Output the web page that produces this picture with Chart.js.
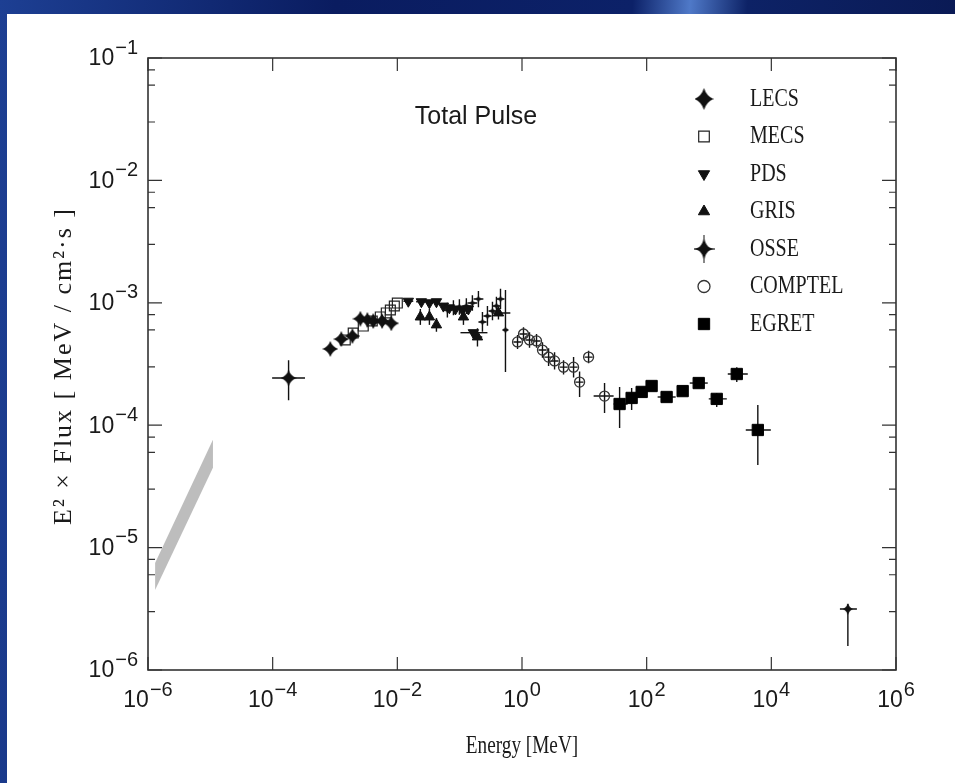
<!DOCTYPE html>
<html>
<head>
<meta charset="utf-8">
<script src="https://cdn.jsdelivr.net/npm/chart.js@4.4.0/dist/chart.umd.min.js"></script>
<style>
html, body { margin: 0; padding: 0; background: #0b1c5a; }
#chart { display: block; }
</style>
</head>
<body>
<canvas id="chart" width="955" height="783"></canvas>
<script>
// values: E [MeV], E^2 x Flux [MeV/cm2/s]
var lecsE = [1.8e-4, 8.4e-4, 1.26e-3, 1.9e-3, 2.55e-3, 3.3e-3, 4.1e-3, 5.7e-3, 8.0e-3];
var lecsF = [2.43e-4, 4.2e-4, 5.05e-4, 5.35e-4, 7.4e-4, 7.25e-4, 7.1e-4, 7.1e-4, 6.8e-4];
var lecsEerr = [[9.8e-5, 3.3e-4]];
var lecsFerr = [[1.6e-4, 3.4e-4]];

var mecsE = [1.46e-3, 1.96e-3, 2.84e-3, 3.96e-3, 5.33e-3, 6.65e-3, 7.73e-3, 8.95e-3, 1.0e-2];
var mecsF = [4.97e-4, 5.66e-4, 6.46e-4, 7.1e-4, 7.66e-4, 8.26e-4, 8.73e-4, 9.42e-4, 9.95e-4];

var pdsE = [1.5e-2, 2.43e-2, 3.27e-2, 4.24e-2, 5.48e-2, 6.84e-2, 8.55e-2, 0.111, 0.138, 0.166];
var pdsF = [1.03e-3, 1.02e-3, 1.0e-3, 1.02e-3, 9.4e-4, 9.1e-4, 8.9e-4, 8.7e-4, 8.9e-4, 5.7e-4];
var pdsEerr = [[1.25e-2, 1.8e-2], [2.0e-2, 2.9e-2], [2.9e-2, 3.7e-2], [3.7e-2, 4.8e-2], null, null, null, null, null, [0.103, 0.279]];

var grisE = [2.34e-2, 3.27e-2, 4.24e-2, 0.115, 0.193, 0.419];
var grisF = [7.66e-4, 7.66e-4, 6.6e-4, 7.66e-4, 5.26e-4, 8.26e-4];
var grisEerr = [null, null, null, null, [0.16, 0.23], [0.336, 0.65]];
var grisFerr = [[6.6e-4, 8.9e-4], [6.6e-4, 8.9e-4], [5.8e-4, 7.5e-4], [6.6e-4, 8.9e-4], [4.4e-4, 6.2e-4], [7.3e-4, 9.3e-4]];

var osseE = [6.35e-2, 7.94e-2, 9.9e-2, 0.128, 0.160, 0.2, 0.232, 0.279, 0.336, 0.389, 0.452, 0.543];
var osseF = [8.73e-4, 9.08e-4, 9.25e-4, 9.42e-4, 9.95e-4, 1.074e-3, 6.97e-4, 7.8e-4, 8.57e-4, 9.42e-4, 1.074e-3, 6.0e-4];
var osseEerr = [[5.3e-2, 7.6e-2], [6.6e-2, 9.5e-2], [8.3e-2, 0.119], [0.107, 0.154], [0.133, 0.192], [0.167, 0.24],
  [0.2, 0.27], [0.24, 0.325], [0.29, 0.39], [0.335, 0.45], [0.39, 0.525], [0.49, 0.6]];
var osseFerr = [[7.6e-4, 1.0e-3], [7.9e-4, 1.05e-3], [8.0e-4, 1.07e-3], [8.1e-4, 1.09e-3], [8.6e-4, 1.15e-3], [9.2e-4, 1.25e-3],
  [5.8e-4, 8.4e-4], [6.5e-4, 9.4e-4], [7.2e-4, 1.02e-3], [7.9e-4, 1.12e-3], [8.9e-4, 1.3e-3], [2.72e-4, 1.27e-3]];

var comptelE = [0.848, 1.057, 1.32, 1.71, 2.13, 2.67, 3.33, 4.64, 6.72, 8.39, 11.7, 21.1];
var comptelF = [4.79e-4, 5.56e-4, 4.97e-4, 4.88e-4, 4.11e-4, 3.6e-4, 3.35e-4, 2.98e-4, 2.98e-4, 2.25e-4, 3.6e-4, 1.73e-4];
var comptelEerr = [[0.73, 0.98], [0.91, 1.23], [1.14, 1.53], [1.47, 1.98], [1.84, 2.47], [2.3, 3.1], [2.87, 3.86],
  [4.0, 5.4], [5.8, 7.8], [7.2, 9.7], [10.1, 13.6], [14.1, 29.5]];
var comptelFerr = [[4.2e-4, 5.45e-4], [4.9e-4, 6.3e-4], [4.3e-4, 5.75e-4], [4.3e-4, 5.55e-4], [3.55e-4, 4.75e-4], [3.05e-4, 4.25e-4],
  [2.85e-4, 3.95e-4], [2.6e-4, 3.4e-4], [2.45e-4, 3.6e-4], [1.7e-4, 2.75e-4], [3.2e-4, 4.05e-4], [1.26e-4, 2.21e-4]];

var egretE = [36.8, 57.4, 83.2, 120, 209, 378, 684, 1330, 2790, 6070];
var egretF = [1.49e-4, 1.67e-4, 1.87e-4, 2.09e-4, 1.70e-4, 1.90e-4, 2.21e-4, 1.64e-4, 2.62e-4, 9.14e-5];
var egretEerr = [[29.5, 49.5], [50, 66], [75, 93], [105, 140], [150, 292], [320, 450], [491, 955], [991, 1930], [2000, 4190], [3890, 9820]];
var egretFerr = [[9.5e-5, 2.05e-4], [1.33e-4, 2.01e-4], [1.7e-4, 2.05e-4], null, null, null, null, [1.41e-4, 1.83e-4], [2.25e-4, 2.98e-4], [4.73e-5, 1.46e-4]];

var tevE = [1.69e5];
var tevF = [3.15e-6];
var tevEerr = [[1.26e5, 2.36e5]];
var tevFerr = [[1.57e-6, 3.46e-6]];

// grey band at lowest energies
var bandE = [1.3e-6, 1.1e-5];
var bandHi = [7.5e-6, 7.6e-5];
var bandLo = [4.5e-6, 4.5e-5];

var xLabelExp = [-6, -4, -2, 0, 2, 4, 6];
var yLabelExp = [-6, -5, -4, -3, -2, -1];
var plotTitle = 'Total Pulse';
var xTitle = 'Energy [MeV]';
var yTitle = 'E\u00b2 \u00d7 Flux [ MeV / cm\u00b2\u00b7s ]';

function pts(xs, ys) {
  return xs.map(function (x, i) { return { x: x, y: ys[i] }; });
}

// 4 point star marker
function makeStar(w, h, pinch) {
  var c = document.createElement('canvas');
  c.width = w; c.height = h;
  var g = c.getContext('2d');
  var cx = w / 2, cy = h / 2, px = w * pinch, py = h * pinch;
  g.fillStyle = '#111';
  g.beginPath();
  g.moveTo(cx, 0);
  g.quadraticCurveTo(cx + px, cy - py, w, cy);
  g.quadraticCurveTo(cx + px, cy + py, cx, h);
  g.quadraticCurveTo(cx - px, cy + py, 0, cy);
  g.quadraticCurveTo(cx - px, cy - py, cx, 0);
  g.fill();
  return c;
}
function makeCross(w, h) {
  var c = makeStar(w, h, 0.03);
  var g = c.getContext('2d');
  g.strokeStyle = '#111'; g.lineWidth = 1;
  g.beginPath();
  g.moveTo(w / 2, 0); g.lineTo(w / 2, h);
  g.moveTo(0, h / 2); g.lineTo(w, h / 2);
  g.stroke();
  return c;
}

var lecsMark = makeStar(16, 16, 0.13);
var lecsLegend = makeStar(19, 22, 0.13);
var tevMark = makeStar(10, 12, 0.13);
var osseMark = makeStar(7, 7, 0.1);
var osseLegend = makeCross(21, 28);

var datasets = [
  { type: 'line', label: 'band', data: pts(bandE, bandHi), fill: '+1', backgroundColor: '#bdbdbd',
    borderWidth: 0, pointRadius: 0, borderColor: 'rgba(0,0,0,0)' },
  { type: 'line', label: 'bandLo', data: pts(bandE, bandLo), fill: false, borderWidth: 0,
    pointRadius: 0, borderColor: 'rgba(0,0,0,0)' },
  { label: 'LECS', legend: true, data: pts(lecsE, lecsF), errE: lecsEerr, errF: lecsFerr,
    pointStyle: lecsMark, legendStyle: lecsLegend },
  { label: 'MECS', legend: true, data: pts(mecsE, mecsF), pointStyle: 'rect', pointRadius: 7,
    pointBackgroundColor: 'rgba(0,0,0,0)', pointBorderColor: '#222', pointBorderWidth: 1.2, legendRadius: 7.5 },
  { label: 'PDS', legend: true, data: pts(pdsE, pdsF), errE: pdsEerr, pointStyle: 'triangle', rotation: 180,
    pointRadius: 6, pointBackgroundColor: '#111', pointBorderColor: '#111', pointBorderWidth: 1, legendRadius: 6.5 },
  { label: 'GRIS', legend: true, data: pts(grisE, grisF), errE: grisEerr, errF: grisFerr, pointStyle: 'triangle',
    pointRadius: 6, pointBackgroundColor: '#111', pointBorderColor: '#111', pointBorderWidth: 1, legendRadius: 6.5 },
  { label: 'OSSE', legend: true, data: pts(osseE, osseF), errE: osseEerr, errF: osseFerr,
    pointStyle: osseMark, legendStyle: osseLegend },
  { label: 'COMPTEL', legend: true, data: pts(comptelE, comptelF), errE: comptelEerr, errF: comptelFerr,
    pointStyle: 'circle', pointRadius: 5, pointBackgroundColor: 'rgba(0,0,0,0)', pointBorderColor: '#333',
    pointBorderWidth: 1.3, legendRadius: 6 },
  { label: 'EGRET', legend: true, data: pts(egretE, egretF), errE: egretEerr, errF: egretFerr,
    pointStyle: 'rect', pointRadius: 8, pointBackgroundColor: '#000', pointBorderColor: '#000',
    pointBorderWidth: 1, legendRadius: 8 },
  { label: 'TeV', data: pts(tevE, tevF), errE: tevEerr, errF: tevFerr, pointStyle: tevMark }
];

var bgPlugin = {
  id: 'slide',
  beforeDraw: function (chart) {
    var c = chart.ctx;
    var g = c.createLinearGradient(0, 0, 955, 60);
    g.addColorStop(0, '#1d3f93');
    g.addColorStop(0.35, '#0a1c60');
    g.addColorStop(0.66, '#0c2168');
    g.addColorStop(0.72, '#4f79c8');
    g.addColorStop(0.78, '#0d2266');
    g.addColorStop(1, '#0a1a55');
    c.save();
    c.fillStyle = g;
    c.fillRect(0, 0, 955, 783);
    c.fillStyle = '#ffffff';
    c.fillRect(7, 14, 948, 769);
    c.restore();
  }
};

var errPlugin = {
  id: 'errbars',
  beforeDatasetsDraw: function (chart) {
    var c = chart.ctx, xs = chart.scales.x, ys = chart.scales.y;
    c.save();
    c.strokeStyle = '#111';
    c.lineWidth = 1.4;
    chart.data.datasets.forEach(function (ds) {
      if (!ds.errE && !ds.errF) return;
      ds.data.forEach(function (p, i) {
        var px = xs.getPixelForValue(p.x), py = ys.getPixelForValue(p.y);
        var ex = ds.errE && ds.errE[i], ey = ds.errF && ds.errF[i];
        c.beginPath();
        if (ex) { c.moveTo(xs.getPixelForValue(ex[0]), py); c.lineTo(xs.getPixelForValue(ex[1]), py); }
        if (ey) { c.moveTo(px, ys.getPixelForValue(ey[0])); c.lineTo(px, ys.getPixelForValue(ey[1])); }
        c.stroke();
      });
    });
    c.restore();
  }
};

function powLabel(c, e, x, y, align) {
  var base = '10', sup = (e < 0 ? '\u2212' : '') + Math.abs(e);
  c.font = '23px "Liberation Sans"';
  var wb = c.measureText(base).width;
  c.font = '20px "Liberation Sans"';
  var ws = c.measureText(sup).width;
  var total = wb + ws + 1;
  var left = align === 'right' ? x - total : x - total / 2;
  c.textAlign = 'left';
  c.textBaseline = 'middle';
  c.font = '23px "Liberation Sans"';
  c.fillText(base, left, y);
  c.font = '20px "Liberation Sans"';
  c.fillText(sup, left + wb + 1, y - 11);
}

function serifText(c, txt, x, y, rot, sx) {
  c.save();
  c.translate(x, y);
  if (rot) c.rotate(rot);
  c.scale(sx, 1);
  c.fillText(txt, 0, 0);
  c.restore();
}

function legendMark(c, ds, x, y) {
  if (ds.legendStyle) {
    c.drawImage(ds.legendStyle, x - ds.legendStyle.width / 2, y - ds.legendStyle.height / 2);
    return;
  }
  var r = ds.legendRadius, rot = (ds.rotation || 0) * Math.PI / 180;
  c.save();
  c.translate(x, y);
  c.rotate(rot);
  c.beginPath();
  if (ds.pointStyle === 'rect') {
    var s = r * Math.SQRT1_2;
    c.rect(-s, -s, 2 * s, 2 * s);
  } else if (ds.pointStyle === 'triangle') {
    c.moveTo(0, -r); c.lineTo(r * 0.866, r * 0.5); c.lineTo(-r * 0.866, r * 0.5); c.closePath();
  } else {
    c.arc(0, 0, r, 0, 2 * Math.PI);
  }
  c.fillStyle = ds.pointBackgroundColor;
  c.strokeStyle = ds.pointBorderColor;
  c.lineWidth = ds.pointBorderWidth;
  c.fill();
  c.stroke();
  c.restore();
}

var framePlugin = {
  id: 'frame',
  afterDraw: function (chart) {
    var c = chart.ctx, a = chart.chartArea, xs = chart.scales.x, ys = chart.scales.y;
    c.save();
    c.strokeStyle = '#333';
    c.lineWidth = 1.6;
    c.strokeRect(a.left, a.top, a.right - a.left, a.bottom - a.top);
    c.lineWidth = 1.2;
    c.beginPath();
    xs.ticks.forEach(function (t) {
      var px = xs.getPixelForValue(t.value), len = t.major ? 13 : 7;
      c.moveTo(px, a.bottom); c.lineTo(px, a.bottom - len);
      c.moveTo(px, a.top); c.lineTo(px, a.top + len);
    });
    ys.ticks.forEach(function (t) {
      var py = ys.getPixelForValue(t.value), len = t.major ? 14 : 7;
      c.moveTo(a.left, py); c.lineTo(a.left + len, py);
      c.moveTo(a.right, py); c.lineTo(a.right - len, py);
    });
    c.stroke();

    c.fillStyle = '#1a1a1a';
    xLabelExp.forEach(function (e) {
      powLabel(c, e, xs.getPixelForValue(Math.pow(10, e)), a.bottom + 31, 'center');
    });
    yLabelExp.forEach(function (e) {
      powLabel(c, e, a.left - 10, ys.getPixelForValue(Math.pow(10, e)) + 1, 'right');
    });

    // titles
    c.textAlign = 'center';
    c.textBaseline = 'middle';
    c.font = '26px "Liberation Serif"';
    serifText(c, xTitle, (a.left + a.right) / 2, 746, 0, 0.74);
    c.letterSpacing = '2px';
    serifText(c, yTitle, 64, 366, -Math.PI / 2, 1);
    c.letterSpacing = '0px';
    c.font = '25px "Liberation Sans"';
    c.fillText(plotTitle, 476, 117);

    // legend
    var row = 0;
    chart.data.datasets.forEach(function (ds) {
      if (!ds.legend) return;
      var ly = 99 + row * 37.5;
      legendMark(c, ds, 704, ly);
      c.fillStyle = '#1a1a1a';
      c.textAlign = 'left';
      c.font = '26px "Liberation Serif"';
      serifText(c, ds.label, 750, ly, 0, 0.77);
      row++;
    });
    c.restore();
  }
};

var ctx = document.getElementById('chart');
var chart = new Chart(ctx, {
  type: 'scatter',
  data: { datasets: datasets },
  options: {
    responsive: false,
    animation: false,
    devicePixelRatio: 1,
    events: [],
    layout: { padding: { left: 148, right: 59, top: 58, bottom: 113 } },
    plugins: { legend: { display: false }, tooltip: { enabled: false } },
    scales: {
      x: {
        type: 'logarithmic', min: 1e-6, max: 1e6, display: false,
        afterBuildTicks: function (scale) {
          var t = [];
          for (var e = -6; e <= 6; e++) t.push({ value: Math.pow(10, e), major: e % 2 === 0 });
          scale.ticks = t;
        }
      },
      y: {
        type: 'logarithmic', min: 1e-6, max: 1e-1, display: false,
        afterBuildTicks: function (scale) {
          var t = [];
          for (var e = -6; e <= -2; e++) {
            for (var m = 1; m <= 9; m++) t.push({ value: m * Math.pow(10, e), major: m === 1 });
          }
          t.push({ value: 1e-1, major: true });
          scale.ticks = t;
        }
      }
    }
  },
  plugins: [bgPlugin, errPlugin, framePlugin]
});
</script>
</body>
</html>
